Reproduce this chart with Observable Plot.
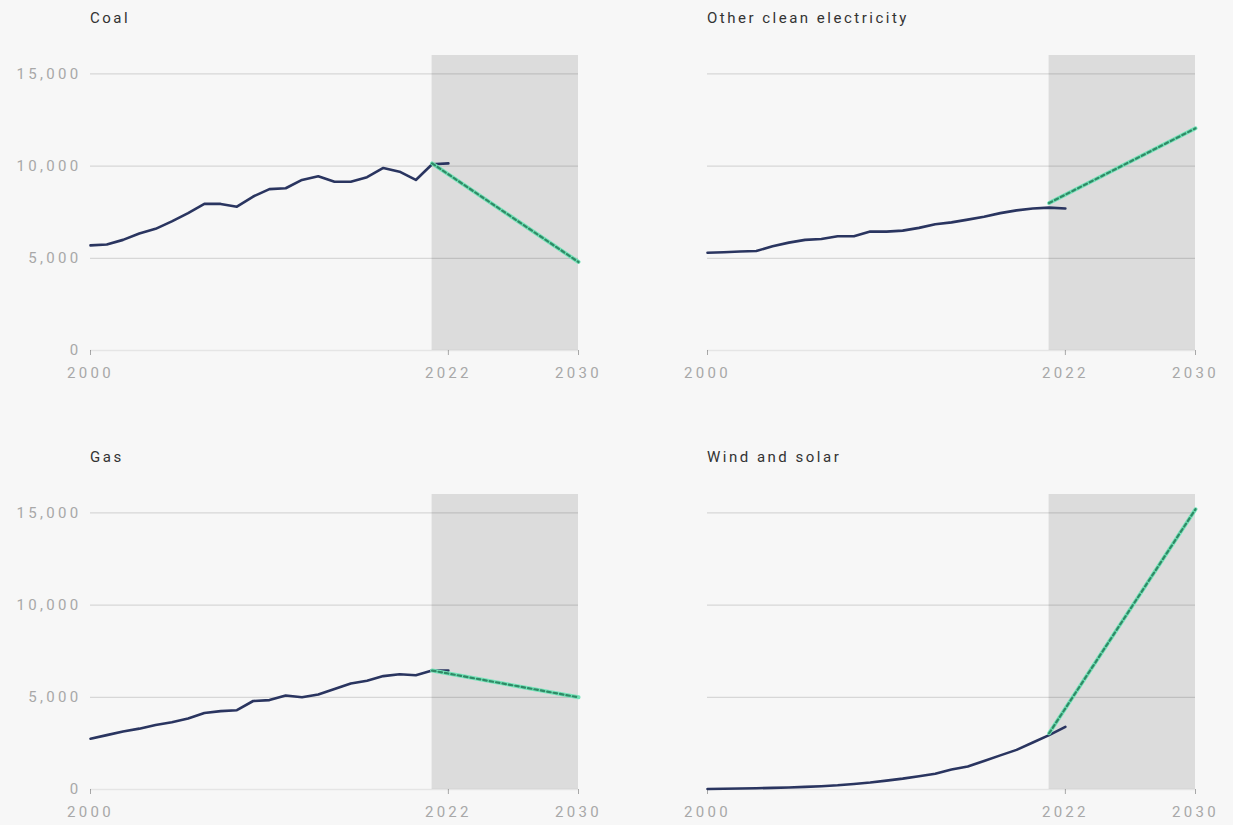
<!DOCTYPE html>
<html>
<head>
<meta charset="utf-8">
<script src="https://cdn.jsdelivr.net/npm/d3@7"></script>
<script src="https://cdn.jsdelivr.net/npm/@observablehq/plot@0.6"></script>
<style>
  html, body { margin: 0; padding: 0; background: #f7f7f7; width: 1233px; height: 825px; overflow: hidden; }
  .panel { position: absolute; width: 616px; }
  .title { position: absolute; font-family: Roboto, "Noto Sans", sans-serif; font-size: 15px; letter-spacing: 2.5px; color: #333; line-height: 20px; white-space: nowrap; }
  .chart { position: absolute; }
</style>
</head>
<body>
<div id="root"></div>
<script>
// ---- Data (TWh) ----
const years = [2000, 2001, 2002, 2003, 2004, 2005, 2006, 2007, 2008, 2009, 2010, 2011,
               2012, 2013, 2014, 2015, 2016, 2017, 2018, 2019, 2020, 2021, 2022];
const coal = [5700, 5750, 6000, 6350, 6600, 7000, 7450, 7950, 7950, 7800, 8350, 8750,
              8800, 9250, 9450, 9150, 9150, 9400, 9900, 9700, 9250, 10100, 10150];
const otherClean = [5300, 5330, 5370, 5400, 5650, 5850, 6000, 6050, 6200, 6200, 6450, 6450,
                    6500, 6650, 6850, 6950, 7100, 7250, 7450, 7600, 7700, 7750, 7700];
const gas = [2750, 2950, 3150, 3300, 3500, 3650, 3850, 4150, 4250, 4300, 4800, 4850,
             5100, 5000, 5150, 5450, 5750, 5900, 6150, 6250, 6200, 6450, 6450];
const windSolar = [30, 40, 55, 70, 90, 110, 140, 180, 230, 300, 380, 480,
                   590, 720, 850, 1080, 1250, 1550, 1850, 2150, 2550, 2950, 3400];

const projYears = [2021, 2030];
const coalProj = [10150, 4800];
const otherCleanProj = [8000, 12050];
const gasProj = [6450, 5000];
const windSolarProj = [3050, 15200];

const forecastStart = 2021, forecastEnd = 2030;
const yMax = 16000;
const xTicks = [2000, 2022, 2030];
const gridTicks = [5000, 10000, 15000];
const yTicks = [0, 5000, 10000, 15000];

const titles = ["Coal", "Other clean electricity", "Gas", "Wind and solar"];
const seriesList = [coal, otherClean, gas, windSolar];
const projList = [coalProj, otherCleanProj, gasProj, windSolarProj];

// ---- Layout ----
const panelLeft = [0, 617, 0, 617];
const panelTop = [0, 0, 439, 439];
const showYLabels = [true, false, true, false];

function makePanel(i) {
  const hist = years.map((yr, k) => ({year: yr, value: seriesList[i][k]}));
  const proj = projYears.map((yr, k) => ({year: yr, value: projList[i][k]}));
  const shade = [{x1: forecastStart, x2: forecastEnd, y1: 0, y2: yMax}];

  const svg = Plot.plot({
    width: 616,
    height: 345,
    marginLeft: 90,
    marginRight: 38,
    marginTop: 15,
    marginBottom: 35,
    style: {background: "transparent", fontFamily: "Roboto, 'Noto Sans', sans-serif", fontSize: "15px", color: "#a8a8a8", overflow: "visible"},
    x: {domain: [2000, 2030], ticks: xTicks, tickFormat: d => String(d), tickSize: 5, tickPadding: 12, label: null},
    y: {domain: [0, yMax], ticks: yTicks, tickFormat: showYLabels[i] ? d3.format(",") : () => "", tickSize: 0, tickPadding: 9, label: null},
    marks: [
      Plot.rect(shade, {x1: "x1", x2: "x2", y1: "y1", y2: "y2", fill: "#dcdcdc"}),
      Plot.ruleY(gridTicks, {stroke: "#000", strokeOpacity: 0.13, strokeWidth: 1.3}),
      Plot.ruleY([0], {stroke: "#000", strokeOpacity: 0.07, strokeWidth: 1.3}),
      Plot.line(hist, {x: "year", y: "value", stroke: "#2a3560", strokeWidth: 2.6, curve: "linear"}),
      Plot.line(proj, {x: "year", y: "value", stroke: "#74e2b8", strokeWidth: 4}),
      Plot.line(proj, {x: "year", y: "value", stroke: "#2f8a66", strokeWidth: 2.2, strokeDasharray: "3.5,3"})
    ]
  });
  svg.querySelectorAll("text").forEach(t => t.style.letterSpacing = "3.3px");

  const panel = document.createElement("div");
  panel.className = "panel";
  panel.style.left = panelLeft[i] + "px";
  panel.style.top = panelTop[i] + "px";

  const title = document.createElement("div");
  title.className = "title";
  title.textContent = titles[i];
  title.style.left = "90px";
  title.style.top = "8px";
  panel.appendChild(title);

  const holder = document.createElement("div");
  holder.className = "chart";
  holder.style.left = "0px";
  holder.style.top = "40px";
  holder.appendChild(svg);
  panel.appendChild(holder);
  return panel;
}

const root = document.getElementById("root");
for (let i = 0; i < 4; i++) root.appendChild(makePanel(i));
</script>
</body>
</html>
